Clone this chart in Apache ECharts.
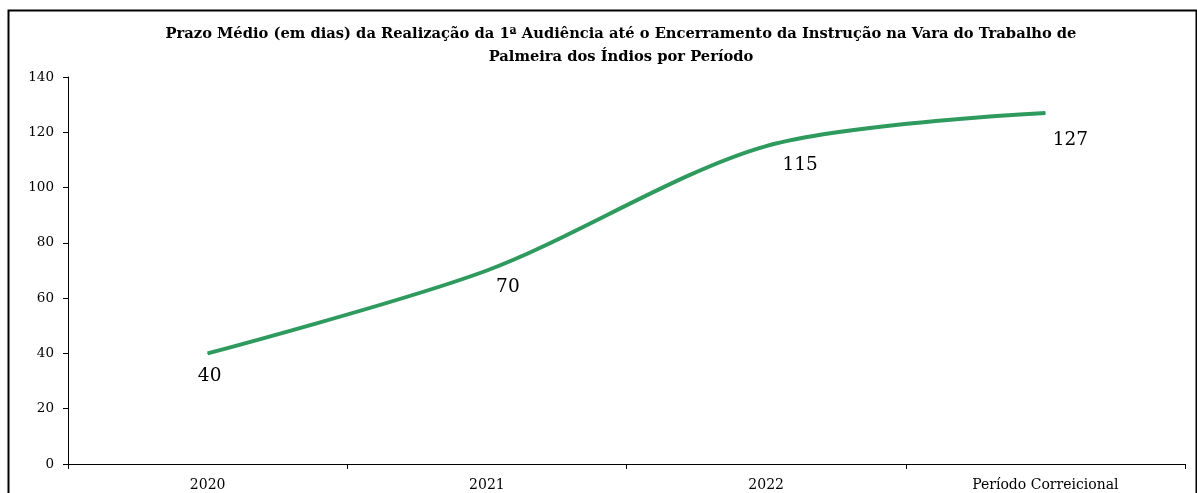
<!DOCTYPE html>
<html>
<head>
<meta charset="utf-8">
<script src="https://cdn.jsdelivr.net/npm/echarts@6/dist/echarts.min.js"></script>
<style>
html,body{margin:0;padding:0;background:#fff;}
#c{width:1197px;height:493px;}
</style>
</head>
<body>
<div id="c"></div>
<script>
const titleLines = ["Prazo Médio (em dias) da Realização da 1ª Audiência até o Encerramento da Instrução na Vara do Trabalho de", "Palmeira dos Índios por Período"];
const categories = ["2020", "2021", "2022", "Período Correicional"];
const values = [40, 70, 115, 127];
const yTicks = {min: 0, max: 140, interval: 20};

// label placement tweaks (style only, in pixels)
const labelNudge = [[2, 5], [21, -1], [34, 1], [25, 9]];

const chart = echarts.init(document.getElementById('c'));
const serif = '"DejaVu Serif", "Liberation Serif", serif';
chart.setOption({
  animation: false,
  title: {
    text: titleLines.join('\n'),
    left: 616, top: 18, textAlign: 'center',
    textStyle: {fontFamily: serif, fontWeight: 'bold', fontSize: 14.7, color: '#000', lineHeight: 23}
  },
  graphic: [{
    type: 'rect', left: 6, top: 8,
    shape: {width: 1188, height: 500},
    style: {fill: 'none', stroke: '#000', lineWidth: 2}
  }],
  grid: {left: 68, right: 12, top: 77, bottom: 29},
  xAxis: {
    type: 'category', data: categories, boundaryGap: true,
    axisLine: {lineStyle: {color: '#000', width: 1}},
    axisTick: {show: true, length: 5, lineStyle: {color: '#000'}},
    axisLabel: {fontFamily: serif, fontSize: 14, color: '#000', margin: 14}
  },
  yAxis: {
    type: 'value', min: yTicks.min, max: yTicks.max, interval: yTicks.interval,
    axisLine: {show: true, lineStyle: {color: '#000', width: 1}},
    axisTick: {show: true, length: 5, lineStyle: {color: '#000'}},
    splitLine: {show: false},
    axisLabel: {fontFamily: serif, fontSize: 13.5, color: '#000', margin: 14}
  },
  series: [{
    type: 'line',
    data: values.map((v, i) => ({value: v, label: {offset: labelNudge[i]}})),
    smooth: 0.3,
    symbol: 'circle', symbolSize: 1, showSymbol: true,
    itemStyle: {color: '#2e9a5e'},
    lineStyle: {color: '#2e9a5e', width: 4},
    label: {
      show: true, position: 'bottom', distance: 8,
      fontFamily: serif, fontSize: 18.5, color: '#000'
    }
  }]
});
</script>
</body>
</html>
